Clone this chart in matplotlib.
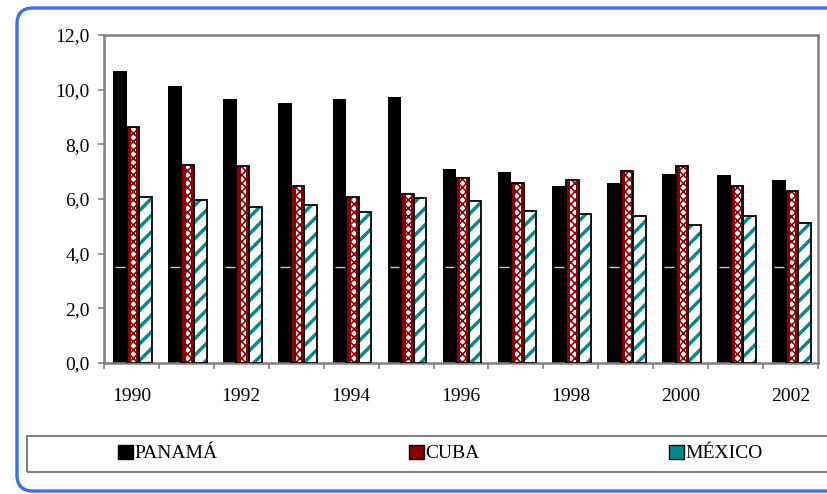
import numpy as np
import matplotlib.pyplot as plt
from matplotlib.patches import Patch, Rectangle, FancyBboxPatch

# Datos
anios = ['1990', '1991', '1992', '1993', '1994', '1995', '1996',
         '1997', '1998', '1999', '2000', '2001', '2002']
panama = [10.67, 10.15, 9.65, 9.52, 9.66, 9.74, 7.11, 6.98, 6.47, 6.59, 6.91, 6.86, 6.68]
cuba = [8.63, 7.25, 7.20, 6.46, 6.09, 6.17, 6.76, 6.57, 6.68, 7.01, 7.22, 6.48, 6.28]
mexico = [6.09, 5.98, 5.72, 5.79, 5.54, 6.02, 5.94, 5.55, 5.46, 5.36, 5.05, 5.36, 5.14]
paises = ['PANAMÁ', 'CUBA', 'MÉXICO']
y_ticks = [0, 2, 4, 6, 8, 10, 12]

plt.rcParams['font.family'] = ['Liberation Serif', 'DejaVu Serif']
plt.rcParams['hatch.linewidth'] = 2.5

fig = plt.figure(figsize=(8.28, 4.94), dpi=100)
ax = fig.add_axes([104 / 828, 1 - 363 / 494, 714 / 828, 328 / 494])

x = np.arange(len(anios))
w = 0.23
rojo = '#8B0000'
verde = '#008C8C'

# Panama: negro liso
ax.bar(x - w + 0.02, panama, width=w + 0.02, color='black', zorder=2)
# Cuba: rojo con una franja blanca a cuadritos
ax.bar(x + 0.025, cuba, width=w, color=rojo, linewidth=0, zorder=3)
franja = ax.bar(x + 0.04, cuba, width=0.1, color='white', edgecolor=rojo,
                hatch='xxxx', linewidth=0, zorder=3)
for p in franja:
    if hasattr(p, 'set_hatch_linewidth'):
        p.set_hatch_linewidth(1.2)
ax.bar(x + 0.025, cuba, width=w, fill=False, edgecolor='black', linewidth=1.3, zorder=4)
# Mexico: blanco con rayas verdes
ax.bar(x + w + 0.025, mexico, width=w, color='white', edgecolor=verde, hatch='//', linewidth=0, zorder=3)
ax.bar(x + w + 0.025, mexico, width=w, fill=False, edgecolor='black', linewidth=1.3, zorder=4)

# rayita gris que cruza las barras negras
ax.hlines([3.5] * len(x), x - w + 0.02 - 0.09, x - w + 0.02 + 0.09,
          color='#c8c8c8', linewidth=1, zorder=5)

ax.set_xlim(-0.5, len(anios) - 0.5)
ax.set_ylim(0, 12)
ax.set_yticks(y_ticks)
ax.set_yticklabels([f'{v:.1f}'.replace('.', ',') for v in y_ticks], fontsize=14)

ax.set_xticks(np.arange(-0.5, len(anios)))
ax.set_xticklabels([])
ax.set_xticks(x[::2], minor=True)
ax.set_xticklabels(anios[::2], minor=True, fontsize=14)
ax.tick_params(axis='x', which='major', direction='out', length=4.3, width=1.2, color='#808080')
ax.tick_params(axis='x', which='minor', length=0, pad=18)
ax.tick_params(axis='y', direction='out', length=4.3, width=1.2, color='#808080', pad=6)

for s in ax.spines.values():
    s.set_color('#808080')
    s.set_linewidth(1.8)

# Caja de la leyenda
fig.patches.append(Rectangle((26.7 / 828, 1 - 471.7 / 494), 1.0, 36 / 494,
                             transform=fig.transFigure, fill=False,
                             edgecolor='#808080', linewidth=1.5))
handles = [Patch(facecolor='black', edgecolor='black'),
           Patch(facecolor=rojo, edgecolor='black'),
           Patch(facecolor=verde, edgecolor='black')]
pos_leyenda = [118, 409, 669]
for h, nombre, px in zip(handles, paises, pos_leyenda):
    fig.legend([h], [nombre], loc='center left', bbox_to_anchor=(px / 828, 1 - 453.5 / 494),
               frameon=False, fontsize=14, borderpad=0, borderaxespad=0,
               handlelength=0.75, handleheight=0.75, handletextpad=0.1)

# Marco azul redondeado
fig.patches.append(FancyBboxPatch((0.17, 0.03), 8.3, 4.83,
                                  boxstyle='round,pad=0,rounding_size=0.16',
                                  transform=fig.dpi_scale_trans, fill=False,
                                  edgecolor='#3D6FF2', linewidth=2.4))

plt.savefig('out.png', dpi=100)
